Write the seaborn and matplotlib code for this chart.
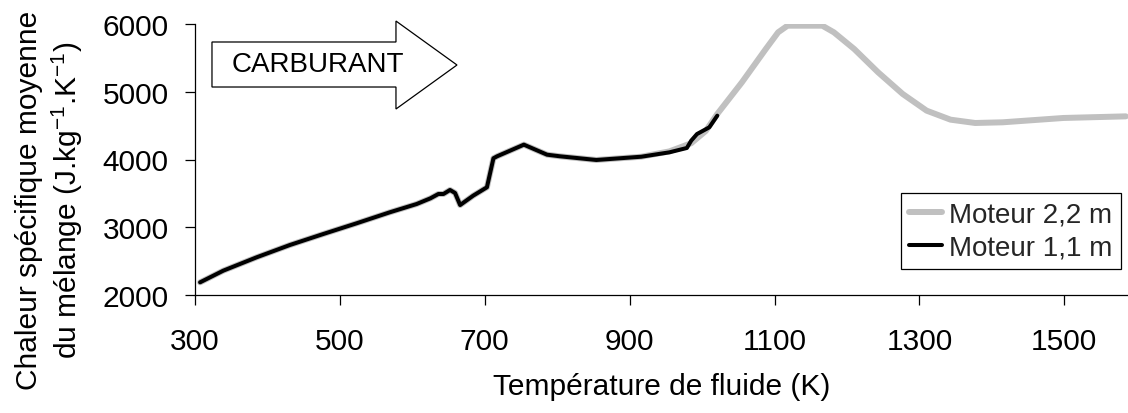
import numpy as np
import pandas as pd
import seaborn as sns
import matplotlib
matplotlib.use("Agg")
from matplotlib import pyplot as plt
from matplotlib.patches import Polygon

# Moteur 1,1 m (courbe noire)
temp_court = [307, 339, 385, 431, 477, 523, 569, 606, 625, 636, 643, 652, 659, 666, 684, 703,
              712, 717, 754, 786, 804, 854, 916, 955, 979, 985, 993, 1010, 1021]
cp_court = [2187, 2359, 2556, 2738, 2900, 3058, 3221, 3343, 3427, 3491, 3491, 3550, 3506, 3328,
            3466, 3590, 4018, 4047, 4219, 4071, 4047, 3993, 4041, 4106, 4170, 4278, 4376, 4475, 4647]

# Moteur 2,2 m (courbe grise)
temp_long = [307, 339, 385, 431, 477, 523, 569, 606, 625, 636, 643, 652, 659, 666, 684, 703,
             712, 717, 754, 786, 804, 854, 916, 955, 985, 1005, 1021, 1055, 1088, 1105, 1118,
             1166, 1182, 1210, 1243, 1277, 1310, 1343, 1377, 1415, 1499, 1585]
cp_long = [2187, 2359, 2556, 2738, 2900, 3058, 3221, 3343, 3427, 3491, 3491, 3550, 3506, 3328,
           3466, 3590, 4018, 4047, 4219, 4071, 4047, 3993, 4041, 4120, 4240, 4420, 4672, 5139,
           5631, 5877, 5975, 5975, 5877, 5631, 5287, 4967, 4721, 4588, 4539, 4549, 4613, 4637]

x_ticks = [300, 500, 700, 900, 1100, 1300, 1500]
y_ticks = [2000, 3000, 4000, 5000, 6000]

sns.set_theme(style="ticks")
plt.rcParams['font.family'] = ['Liberation Sans', 'DejaVu Sans']
plt.rcParams['mathtext.fontset'] = 'custom'
plt.rcParams['mathtext.rm'] = 'Liberation Sans'

df_long = pd.DataFrame({'T': temp_long, 'cp': cp_long})
df_court = pd.DataFrame({'T': temp_court, 'cp': cp_court})

fig = plt.figure(figsize=(11.28, 4.14), dpi=100)
ax = fig.add_axes([195 / 1128, 1 - 296 / 414, 933 / 1128, 271 / 414])

sns.lineplot(data=df_long, x='T', y='cp', ax=ax, color='#c0c0c0', linewidth=4.3,
             estimator=None, label='Moteur 2,2 m', solid_capstyle='round')
sns.lineplot(data=df_court, x='T', y='cp', ax=ax, color='black', linewidth=2.9,
             estimator=None, label='Moteur 1,1 m')

ax.set_xlim(300, 1588)
ax.set_ylim(2000, 6000)
ax.set_xticks(x_ticks)
ax.set_yticks(y_ticks)
sns.despine(ax=ax)
for sp in ['left', 'bottom']:
    ax.spines[sp].set_color('black')
    ax.spines[sp].set_linewidth(0.9)
ax.tick_params(axis='both', direction='out', length=7, width=0.9, colors='black',
               labelsize=21.5)
ax.tick_params(axis='x', pad=16)
ax.tick_params(axis='y', pad=12)

ax.set_xlabel('Température de fluide (K)', fontsize=21.5, color='black', labelpad=12)
ax.set_ylabel('Chaleur spécifique moyenne\ndu mélange (J.kg$^{\\mathregular{-1}}$.K$^{\\mathregular{-1}}$)',
              fontsize=21.5, color='black', linespacing=1.2)
ax.yaxis.set_label_coords(-0.118, 0.354)

# flèche "CARBURANT"
arrow = Polygon([(0.0182, 0.7675), (0.2154, 0.7675), (0.2154, 0.6863), (0.2808, 0.8487),
                 (0.2154, 1.011), (0.2154, 0.9336), (0.0182, 0.9336)],
                closed=True, transform=ax.transAxes, facecolor='white', edgecolor='black',
                linewidth=0.9, clip_on=False, zorder=5)
ax.add_patch(arrow)
ax.text(0.132, 0.852, 'CARBURANT', transform=ax.transAxes, ha='center', va='center',
        fontsize=20, color='black', zorder=6)

leg = ax.legend(loc='lower right', bbox_to_anchor=(0.9925, 0.096), borderaxespad=0,
                fontsize=20, frameon=True, fancybox=False, framealpha=1,
                handlelength=1.2, handletextpad=0.25, labelspacing=0.25, borderpad=0.3)
leg.get_frame().set_edgecolor('black')
leg.get_frame().set_linewidth(0.9)

fig.savefig('out.png', dpi=100)
